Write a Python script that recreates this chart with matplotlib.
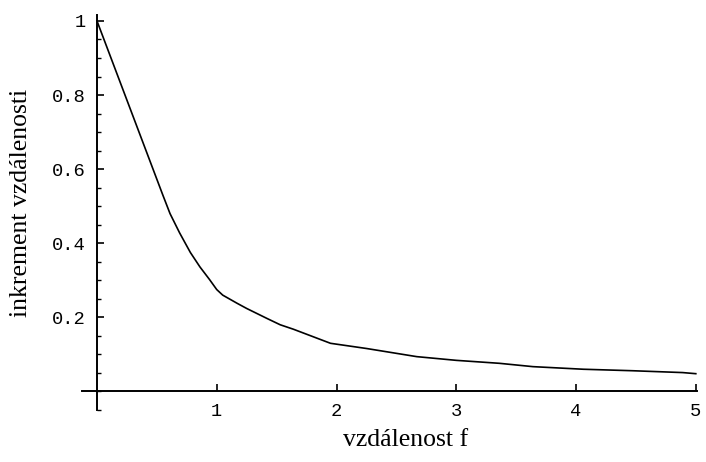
import matplotlib
matplotlib.use("Agg")
import matplotlib.pyplot as plt
from matplotlib.ticker import MultipleLocator

# hodnoty
f = [0, 0.55, 0.61, 0.69, 0.78, 0.86, 0.94, 1.0, 1.05, 1.17, 1.25, 1.42, 1.53,
     1.64, 1.86, 1.95, 2.25, 2.67, 3.0, 3.36, 3.64, 4.06, 4.47, 4.89, 5.0]
inkrement = [1.0, 0.53, 0.48, 0.428, 0.375, 0.336, 0.302, 0.275, 0.26, 0.238, 0.224,
             0.197, 0.18, 0.168, 0.141, 0.13, 0.116, 0.094, 0.084, 0.076, 0.067,
             0.06, 0.056, 0.051, 0.048]

xticks = [1, 2, 3, 4, 5]
yticks = [0.2, 0.4, 0.6, 0.8, 1.0]
ytick_labels = ["0.2", "0.4", "0.6", "0.8", "1"]

fig = plt.figure(figsize=(7.06, 4.62), dpi=100)
ax = fig.add_axes([82 / 706, 52 / 462, 615 / 706, 395 / 462])

ax.plot(f, inkrement, color="black", lw=1.2)

ax.set_xlim(-0.125, 5.01)
ax.set_ylim(-0.05, 1.016)

# osy v počátku (mathematica styl)
ax.spines["top"].set_visible(False)
ax.spines["right"].set_visible(False)
ax.spines["left"].set_position(("data", 0))
ax.spines["bottom"].set_position(("data", 0))
ax.spines["left"].set_linewidth(1.4)
ax.spines["bottom"].set_linewidth(1.4)

ax.set_xticks(xticks)
ax.set_xticklabels([str(t) for t in xticks])
ax.set_yticks(yticks)
ax.set_yticklabels(ytick_labels)
ax.yaxis.set_minor_locator(MultipleLocator(0.05))

ax.tick_params(axis="both", which="major", direction="in", length=5, width=1.2,
               labelsize=13.5, pad=8)
ax.tick_params(axis="y", which="minor", direction="in", length=3, width=1)
for lab in ax.get_xticklabels() + ax.get_yticklabels():
    lab.set_family("Liberation Mono")

fig.text(406 / 706, 1 - 440 / 462, "vzdálenost f", family="Liberation Serif",
         fontsize=18.5, ha="center", va="center")
fig.text(21 / 706, 1 - 203 / 462, "inkrement vzdálenosti", family="Liberation Serif",
         fontsize=18.5, ha="center", va="center", rotation=90)

fig.savefig("out.png", dpi=100)
